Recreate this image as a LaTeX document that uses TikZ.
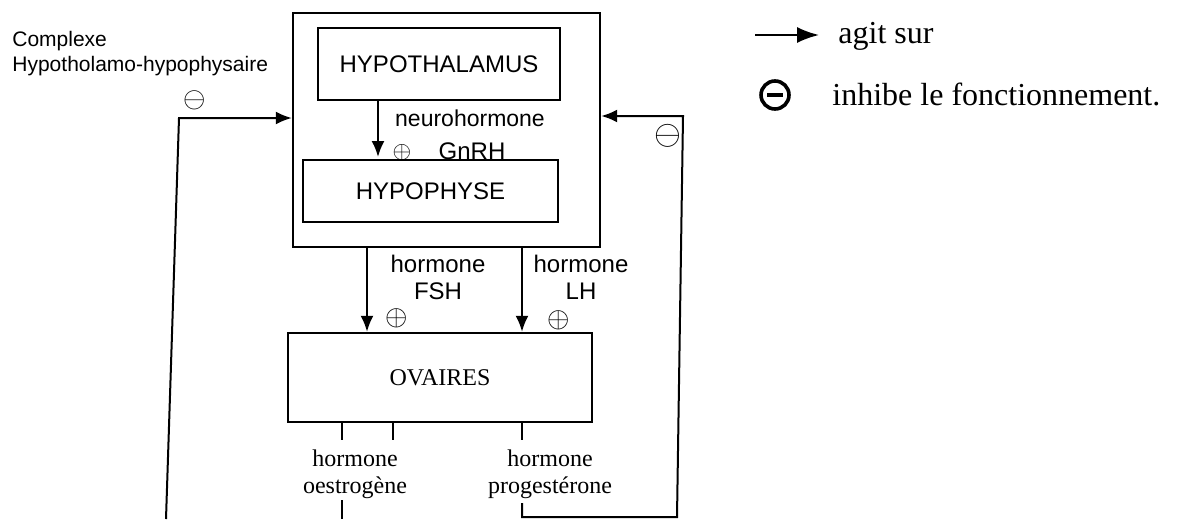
\documentclass[tikz,border=0pt]{standalone}
\usepackage{amsmath,amssymb}
\usepackage{fontspec}
\setmainfont{Liberation Serif}
\setsansfont{Liberation Sans}
\usetikzlibrary{arrows.meta}
\newdimen\pxsize
\setlength{\pxsize}{0.5pt}

\begin{document}
\begin{tikzpicture}[x=\pxsize,y=-\pxsize,
  box/.style={draw,line width=1.2pt,inner sep=0pt},
  link/.style={line width=1pt},
  agit/.style={link,-{Latex[length=8pt,width=6.5pt]}},
  sflbl/.style={font=\sffamily\fontsize{12}{13.5}\selectfont,align=center,inner sep=0pt},
  rmlbl/.style={font=\fontsize{12}{13.5}\selectfont,align=center,inner sep=0pt},
  signe/.style={inner sep=0pt,font=\fontsize{#1}{#1}\selectfont}]
\useasboundingbox (0,0) rectangle (1202,519);
% boxes
\node[box,minimum width=307*\pxsize,minimum height=234*\pxsize] (cplx) at (446.5,130) {};
\node[box,sflbl,minimum width=242*\pxsize,minimum height=72*\pxsize] (hypot) at (439,64) {HYPOTHALAMUS};
\node[box,sflbl,minimum width=255*\pxsize,minimum height=62*\pxsize] (hypoph) at (430.5,191) {HYPOPHYSE};
\node[box,rmlbl,minimum width=304*\pxsize,minimum height=89*\pxsize] (ovaires) at (440,377.5) {OVAIRES};
% labels
\node[anchor=north west,inner sep=0pt,align=left,font=\sffamily\fontsize{10.5}{12.5}\selectfont]
  (cplxlbl) at (12,31) {Complexe\\Hypotholamo-hypophysaire};
\node[sflbl,font=\sffamily\fontsize{11.5}{13}\selectfont] (neuro) at (470,118) {neurohormone};
\node[sflbl] (gnrh) at (472,151) {GnRH};
\node[sflbl] (fsh) at (438,277) {hormone\\FSH};
\node[sflbl] (lh) at (581,277) {hormone\\LH};
\node[rmlbl] (oestro) at (355,474) {hormone\\oestrogène};
\node[rmlbl] (proges) at (550,474) {hormone\\progestérone};
% signes
\node[signe=13] (pgnrh) at (402,152) {$\oplus$};
\node[signe=14] (pfsh) at (397,318) {$\oplus$};
\node[signe=14] (plh) at (559,320) {$\oplus$};
\node[signe=15] (mleft) at (195,100) {$\ominus$};
\node[signe=19] (mright) at (668,136) {$\ominus$};
% arrows
\draw[agit] (378,0 |- hypot.south) -- (378,157);
\draw[agit] (367,0 |- cplx.south) -- (367,0 |- ovaires.north);
\draw[agit] (522,0 |- cplx.south) -- (522,0 |- ovaires.north);
\foreach \tx in {342,393,522}{
  \draw[link] (ovaires.south -| \tx,0) -- (\tx,440);
}
% retrocontroles
\coordinate (otail) at (342,500);
\coordinate (oend) at (342,519);
\draw[link] (otail) -- (oend);
\coordinate (lbot) at (166,519);
\coordinate (ltop) at (179,118);
\draw[agit] (lbot) -- (ltop) -- (cplx.west |- ltop);
\coordinate (ptail) at (522,503);
\coordinate (rbot) at (677,517);
\coordinate (rtop) at (683,116);
\draw[agit] (ptail) |- (rbot) -- (rtop) -- (cplx.east |- rtop);
% legende
\coordinate (legs) at (755,35);
\coordinate (lege) at (819,35);
\draw[link,-{Latex[length=11pt,width=8pt]}] (legs) -- (lege);
\node[anchor=base west,inner sep=0pt,font=\fontsize{16}{18}\selectfont] (agitsur) at (838,44) {agit sur};
\node[circle,draw,line width=1.8pt,minimum size=14pt,inner sep=0pt,
  path picture={\draw[line width=2.2pt] ([xshift=-4pt]path picture bounding box.center) -- ([xshift=4pt]path picture bounding box.center);}]
  (legm) at (775,95) {};
\node[anchor=base west,inner sep=0pt,font=\fontsize{16}{18}\selectfont] (inhibe) at (832,105) {inhibe le fonctionnement.};
\end{tikzpicture}
\end{document}
